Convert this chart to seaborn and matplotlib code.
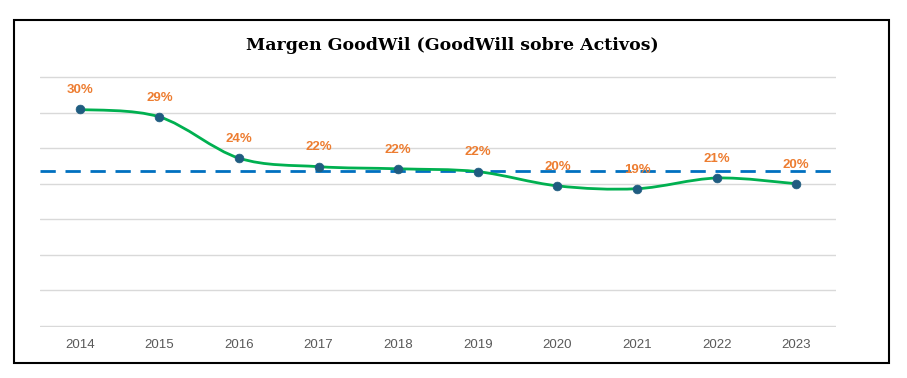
import numpy as np
import pandas as pd
import seaborn as sns
import matplotlib.pyplot as plt
from matplotlib.path import Path
from matplotlib.patches import PathPatch, Rectangle

# Data
years = ['2014', '2015', '2016', '2017', '2018', '2019', '2020', '2021', '2022', '2023']
margen = [30.45, 29.4, 23.6, 22.4, 22.1, 21.7, 19.7, 19.3, 20.8, 20.0]
referencia = 21.8  # dashed horizontal line

df = pd.DataFrame({'year': years, 'margen': margen})
df['x'] = np.arange(len(df))

sns.set_style('white')
plt.rcParams['font.family'] = ['Liberation Sans', 'DejaVu Sans']

fig = plt.figure(figsize=(9.07, 3.78), dpi=100)
ax = fig.add_axes([40 / 907, 1 - 327 / 378, (836 - 40) / 907, (327 - 76) / 378])

# Smooth line (Excel-style) as cubic Bezier through the points
pts = df[['x', 'margen']].to_numpy(dtype=float)
verts = [tuple(pts[0])]
codes = [Path.MOVETO]
n = len(pts)
for i in range(n - 1):
    p0 = pts[max(i - 1, 0)]
    p1 = pts[i]
    p2 = pts[i + 1]
    p3 = pts[min(i + 2, n - 1)]
    c1 = p1 + (p2 - p0) / 6
    c2 = p2 - (p3 - p1) / 6
    verts += [tuple(c1), tuple(c2), tuple(p2)]
    codes += [Path.CURVE4] * 3
ax.add_patch(PathPatch(Path(verts, codes), facecolor='none', edgecolor='#00B050',
                       lw=2, zorder=3))

ax.axhline(referencia, color='#0070C0', lw=2, dashes=(5.5, 3.5), zorder=2)

sns.scatterplot(data=df, x='x', y='margen', color='#1F5C80', s=40,
                edgecolor='#1F5C80', linewidth=0.5, zorder=4, ax=ax, legend=False)

for xi, yi in zip(df['x'], df['margen']):
    ax.annotate(f'{yi:.0f}%', (xi, yi), xytext=(0, 9.5), textcoords='offset points',
                ha='center', va='bottom', fontsize=9.5, fontweight='bold', color='#ED7D31',
                zorder=5)

ax.set_xlim(-0.5, len(years) - 0.5)
ax.set_ylim(-0.15, 35.15)
ax.set_yticks(np.arange(0, 36, 5))
ax.set_yticklabels([])
ax.set_xticks(df['x'])
ax.set_xticklabels(years, fontsize=9.5, color='#595959')
ax.tick_params(axis='both', length=0)
ax.tick_params(axis='x', pad=9)
ax.grid(axis='y', color='#D9D9D9', lw=1)
ax.set_axisbelow(True)
for s in ax.spines.values():
    s.set_visible(False)
ax.set_xlabel('')
ax.set_ylabel('')

fig.text(452 / 907, 1 - 45 / 378, 'Margen GoodWil (GoodWill sobre Activos)',
         ha='center', va='center', fontsize=12.5, fontweight='bold',
         family='DejaVu Serif', color='black')

fig.patches.append(Rectangle((14 / 907, 1 - 363 / 378), (889 - 14) / 907, (363 - 20) / 378,
                             transform=fig.transFigure, fill=False, edgecolor='black',
                             lw=1.5, zorder=10))

fig.savefig('out.png', dpi=100)
